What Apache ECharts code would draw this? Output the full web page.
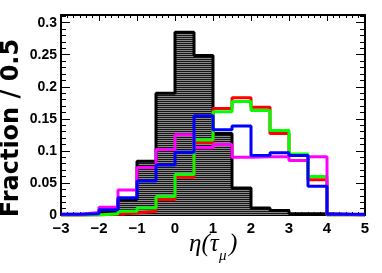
<!DOCTYPE html>
<html><head><meta charset="utf-8">
<script src="https://cdn.jsdelivr.net/npm/echarts@6/dist/echarts.min.js"></script>
<style>html,body{margin:0;padding:0;background:#fff}#c{width:382px;height:273px}</style>
</head><body><div id="c"></div>
<script>
// Bin edges (width 0.5) from -3 to 5
const binEdges = [-3,-2.5,-2,-1.5,-1,-0.5,0,0.5,1,1.5,2,2.5,3,3.5,4,4.5,5];
const xTickLabels = [-3,-2,-1,0,1,2,3,4,5];
const yTickLabels = [0,0.05,0.1,0.15,0.2,0.25,0.3];
// Values per bin (16 bins)
const blackVals   = [0,0.001,0.005,0.024,0.084,0.190,0.285,0.249,0.127,0.042,0.011,0.007,0.002,0.002,0.001,0];
const redVals     = [0,0,0.001,0.003,0.006,0.024,0.059,0.113,0.166,0.183,0.168,0.127,0.093,0.055,0,0];
const greenVals   = [0,0,0.002,0.006,0.011,0.029,0.063,0.117,0.161,0.177,0.163,0.132,0.095,0.060,0,0];
const magentaVals = [0.001,0.004,0.012,0.039,0.074,0.102,0.125,0.105,0.110,0.090,0.091,0.091,0.085,0.091,0.001,0];
const blueVals    = [0.001,0.002,0.008,0.027,0.053,0.078,0.098,0.155,0.133,0.139,0.093,0.097,0.093,0.045,0.001,0.001];

function stepData(vals){
  const d = vals.map((v,i)=>[binEdges[i], v]);
  d.push([binEdges[binEdges.length-1], vals[vals.length-1]]);
  return d;
}

// hatch pattern for filled histogram
const pc = document.createElement('canvas'); pc.width = 4; pc.height = 2;
const g = pc.getContext('2d');
g.fillStyle = '#141414'; g.fillRect(0,0,4,2);
g.fillStyle = '#8a8a8a'; g.fillRect(0,0,4,1);

const chart = echarts.init(document.getElementById('c'), null, {renderer:'canvas'});
const labelFont = {fontFamily:'Liberation Sans', fontWeight:'bold', color:'#000'};
function xAx(pos, showLabel){
  return {type:'value', min:binEdges[0], max:binEdges[binEdges.length-1], interval:1, position:pos,
    axisLine:{show:true, onZero:false, lineStyle:{color:'#000', width:2}},
    axisTick:{show:true, inside:true, length:6, lineStyle:{color:'#000', width:1}},
    minorTick:{show:true, splitNumber:6, length:3, lineStyle:{color:'#000', width:1}},
    splitLine:{show:false}, minorSplitLine:{show:false},
    axisLabel:Object.assign({show:showLabel, fontSize:15, margin:6,
      formatter:v=>{ const t = xTickLabels.find(x=>Math.abs(x-v)<1e-9); return t===undefined?'':(t<0?'\u2212'+(-t):String(t)); }}, labelFont)
  };
}
function yAx(pos, showLabel){
  return {type:'value', min:0, max:0.312, interval:0.05, position:pos,
    axisLine:{show:true, onZero:false, lineStyle:{color:'#000', width:2}},
    axisTick:{show:true, inside:true, length:9, lineStyle:{color:'#000', width:1}},
    minorTick:{show:true, splitNumber:5, length:5, lineStyle:{color:'#000', width:1}},
    splitLine:{show:false}, minorSplitLine:{show:false},
    axisLabel:Object.assign({show:showLabel, fontSize:14, margin:4, showMaxLabel:false,
      formatter:v=>{ const t = yTickLabels.find(x=>Math.abs(x-v)<1e-9); return t===undefined?'':String(t); }}, labelFont)
  };
}
function lineSeries(vals, color, z){
  return {type:'line', data:stepData(vals), step:'end', symbol:'none', z:z,
    lineStyle:{color:color, width:3}, itemStyle:{color:color}, animation:false};
}
chart.setOption({
  animation:false,
  grid:{left:61, right:17, top:15, bottom:58, outerBoundsMode:'none'},
  xAxis:[xAx('bottom', true), xAx('top', false)],
  yAxis:[yAx('left', true), yAx('right', false)],
  series:[
    {type:'line', data:stepData(blackVals), step:'end', symbol:'none', z:1,
      lineStyle:{color:'#000', width:3}, itemStyle:{color:'#000'},
      areaStyle:{color:{image:pc, repeat:'repeat'}, opacity:1}, animation:false},
    lineSeries(redVals, '#ff0000', 2),
    lineSeries(greenVals, '#00ff00', 3),
    lineSeries(magentaVals, '#ff00ff', 4),
    lineSeries(blueVals, '#0000ff', 5)
  ],
  graphic:[
    {type:'text', x:12, y:128, rotation:Math.PI/2, z:10,
      style:{text:'Fraction / 0.5', align:'center', verticalAlign:'middle',
        font:'bold 24px "DejaVu Sans"', fill:'#000'}},
    {type:'text', x:189, y:244, z:10,
      style:{text:'η(τ', align:'left', verticalAlign:'middle',
        font:'italic 25px "Liberation Serif"', fill:'#000'}},
    {type:'text', x:219, y:256, z:10,
      style:{text:'μ', align:'left', verticalAlign:'middle',
        font:'italic 15px "Liberation Serif"', fill:'#000'}},
    {type:'text', x:229, y:244, z:10,
      style:{text:')', align:'left', verticalAlign:'middle',
        font:'italic 25px "Liberation Serif"', fill:'#000'}}
  ]
});
</script></body></html>
